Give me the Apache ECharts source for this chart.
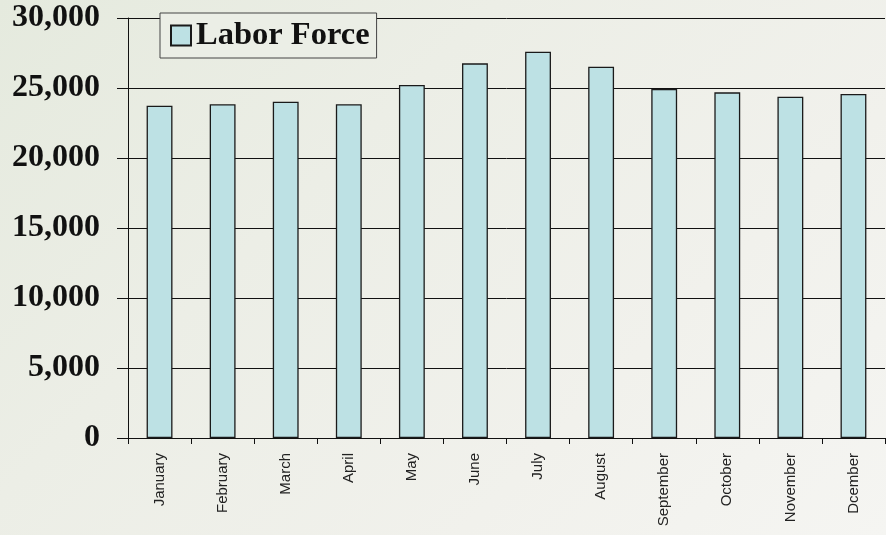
<!DOCTYPE html>
<html>
<head>
<meta charset="utf-8">
<script src="https://cdn.jsdelivr.net/npm/echarts@6/dist/echarts.min.js"></script>
<style>
html,body{margin:0;padding:0;}
#chart{width:886px;height:535px;background:linear-gradient(135deg,#e5eade 0%,#eceee6 35%,#f1f1ec 70%,#f5f5f2 100%);}
</style>
</head>
<body>
<div id="chart"></div>
<script>
const months = ['January','February','March','April','May','June','July','August','September','October','November','Dcember'];
const laborForce = [23740, 23840, 24020, 23840, 25210, 26760, 27590, 26520, 24930, 24690, 24380, 24570];
const yTicks = [0, 5000, 10000, 15000, 20000, 25000, 30000];

const chart = echarts.init(document.getElementById('chart'), null, {renderer: 'canvas'});
chart.setOption({
  backgroundColor: 'transparent',
  animation: false,
  grid: {left: 128, right: 1, top: 18, bottom: 97, containLabel: false},
  legend: {
    left: 160, top: 13,
    padding: [6, 7, 6, 10],
    itemWidth: 20, itemHeight: 20, itemGap: 10,
    borderColor: '#444', borderWidth: 1,
    backgroundColor: '#ebeee6',
    icon: 'rect',
    textStyle: {fontFamily: 'Liberation Serif', fontWeight: 'bold', fontSize: 32.5, color: '#111'},
    data: ['Labor Force']
  },
  xAxis: {
    type: 'category',
    data: months,
    axisLine: {lineStyle: {color: '#111', width: 1}},
    axisTick: {show: true, length: 6, lineStyle: {color: '#111'}},
    axisLabel: {rotate: 90, margin: 15, fontFamily: 'Liberation Sans', fontSize: 15, color: '#222', interval: 0}
  },
  yAxis: {
    type: 'value',
    min: yTicks[0], max: yTicks[yTicks.length - 1], interval: yTicks[1] - yTicks[0],
    axisLine: {show: true, lineStyle: {color: '#111', width: 1}},
    axisTick: {show: true, length: 11, lineStyle: {color: '#111'}},
    splitLine: {show: true, lineStyle: {color: '#111', width: 1}},
    axisLabel: {
      margin: 28, fontFamily: 'Liberation Serif', fontWeight: 'bold', fontSize: 32, color: '#111',
      formatter: v => v.toLocaleString('en-US')
    }
  },
  series: [{
    name: 'Labor Force',
    type: 'bar',
    data: laborForce,
    barWidth: '41%',
    itemStyle: {color: '#bde1e4', borderColor: '#1a1a1a', borderWidth: 1.3}
  }]
});
</script>
</body>
</html>
